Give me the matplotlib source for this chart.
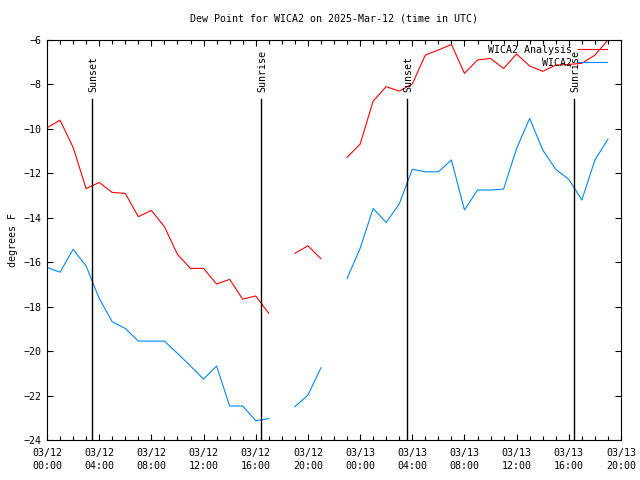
import numpy as np
import matplotlib
matplotlib.use("Agg")
import matplotlib.pyplot as plt

# hours since 03/12 00:00 UTC
hours = np.arange(0, 44)

nan = np.nan
analysis = [-9.95, -9.61, -10.83, -12.69, -12.41, -12.86, -12.9, -13.95, -13.67, -14.4,
            -15.65, -16.28, -16.28, -16.98, -16.77, -17.66, -17.52, -18.3, nan, -15.6,
            -15.26, -15.84, nan, -11.28, -10.69, -8.75, -8.1, -8.3, -7.98, -6.68,
            -6.45, -6.2, -7.5, -6.9, -6.83, -7.28, -6.63, -7.17, -7.41, -7.13,
            -7.1, -7.05, -6.68, -6.0]
obs = [-16.23, -16.45, -15.42, -16.17, -17.63, -18.68, -18.98, -19.55, -19.55, -19.55,
       -20.1, -20.67, -21.26, -20.67, -22.47, -22.47, -23.13, -23.04, nan, -22.5,
       -21.98, -20.75, nan, -16.73, -15.38, -13.58, -14.21, -13.38, -11.82, -11.93,
       -11.93, -11.4, -13.65, -12.75, -12.75, -12.71, -10.88, -9.53, -10.95, -11.82,
       -12.27, -13.2, -11.4, -10.46]

sun_events = [3.45, 16.4, 27.6, 40.4]
sun_labels = ['Sunset', 'Sunrise', 'Sunset', 'Sunrise']

tick_hours = [0, 4, 8, 12, 16, 20, 24, 28, 32, 36, 40, 44]
tick_labels = ['03/12\n00:00', '03/12\n04:00', '03/12\n08:00', '03/12\n12:00',
               '03/12\n16:00', '03/12\n20:00', '03/13\n00:00', '03/13\n04:00',
               '03/13\n08:00', '03/13\n12:00', '03/13\n16:00', '03/13\n20:00']

plt.rcParams['font.family'] = 'DejaVu Sans Mono'
plt.rcParams['font.size'] = 7.2

fig = plt.figure(figsize=(6.4, 4.8), dpi=100)
ax = fig.add_axes([47 / 640, 40 / 480, 574 / 640, 400 / 480])

ax.plot(hours, analysis, color='#ff0000', lw=0.8, label='WICA2 Analysis')
ax.plot(hours, obs, color='#0088ff', lw=0.8, label='WICA2')

for h, lab in zip(sun_events, sun_labels):
    ax.plot([h, h], [-24, -8.66], color='black', lw=1)
    ax.text(h + 0.1, -8.35, lab, rotation=90, ha='center', va='bottom')

ax.set_xlim(0, 44)
ax.set_ylim(-24, -6)
ax.set_xticks(tick_hours)
ax.set_xticklabels(tick_labels, linespacing=1.35)
ax.set_xticks(hours, minor=True)
ax.set_yticks(np.arange(-24, -5, 2))
ax.tick_params(direction='in', top=True, right=True, which='both')
ax.tick_params(which='major', length=4.5, width=0.8)
ax.tick_params(which='minor', length=3, width=0.8)
ax.tick_params(axis='x', pad=6)
ax.tick_params(axis='y', pad=4)

ax.set_title('Dew Point for WICA2 on 2025-Mar-12 (time in UTC)', fontsize=7.2, pad=13)
ax.set_ylabel('degrees F', labelpad=4)

ax.legend(loc='upper right', frameon=False, markerfirst=False, handlelength=2.9,
          borderaxespad=0.1, labelspacing=0.3, handletextpad=0.6,
          bbox_to_anchor=(0.985, 1.0))

fig.savefig('out.png', dpi=100)
